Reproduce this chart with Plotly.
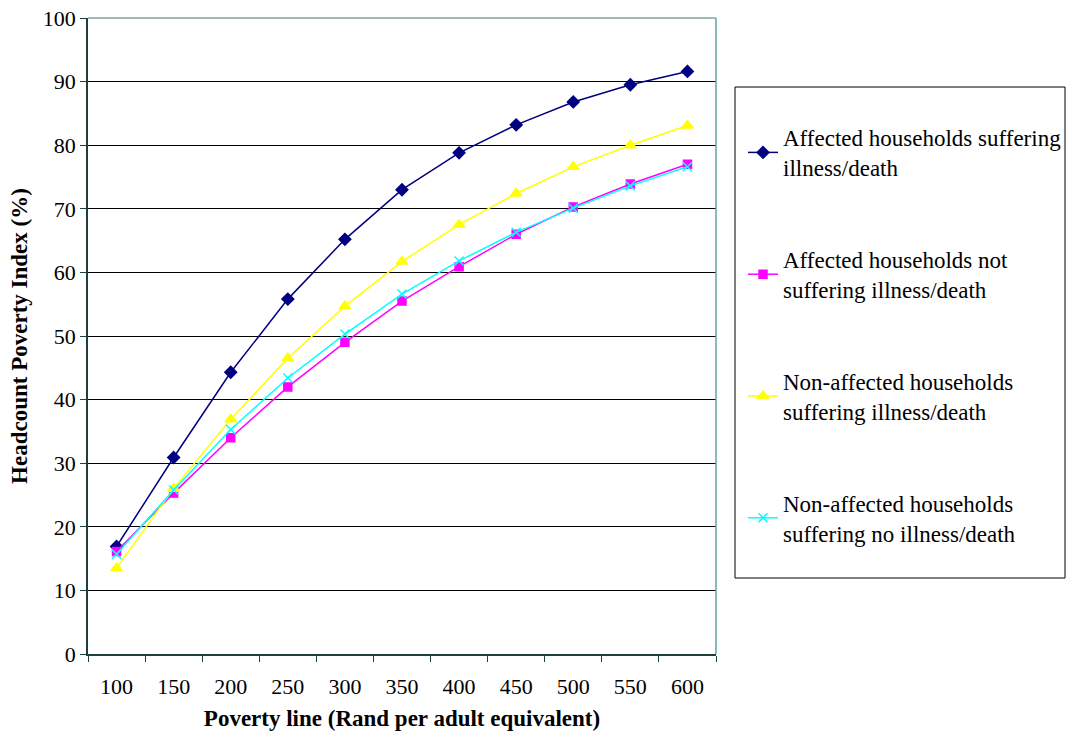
import plotly.graph_objects as go

poverty_lines = ["100", "150", "200", "250", "300", "350", "400", "450", "500", "550", "600"]

affected_ill = [16.9, 30.9, 44.3, 55.8, 65.2, 73.0, 78.8, 83.2, 86.8, 89.5, 91.6]
affected_not_ill = [16.1, 25.3, 34.0, 42.0, 49.0, 55.5, 60.9, 66.0, 70.3, 73.9, 77.0]
nonaffected_ill = [13.5, 26.0, 36.9, 46.5, 54.7, 61.7, 67.5, 72.4, 76.6, 80.0, 83.1]
nonaffected_no_ill = [15.7, 25.8, 35.3, 43.4, 50.3, 56.6, 61.8, 66.3, 70.1, 73.6, 76.6]

series_names = [
    "Affected households suffering<br>illness/death",
    "Affected households not<br>suffering illness/death",
    "Non-affected households<br>suffering illness/death",
    "Non-affected households<br>suffering no illness/death",
]
series_values = [affected_ill, affected_not_ill, nonaffected_ill, nonaffected_no_ill]
colors = ["#000080", "#FF00FF", "#FFFF00", "#00FFFF"]
symbols = ["diamond", "square", "triangle-up", "x-thin-open"]
sizes = [9, 8, 10, 9]

FONT = "Liberation Serif, Times New Roman, serif"
L, R, T, B = 88, 716, 18, 654
PW, PH = R - L, B - T

fig = go.Figure()
for i, (name, vals) in enumerate(zip(series_names, series_values)):
    fig.add_trace(go.Scatter(
        x=poverty_lines, y=vals, name=name, mode="lines+markers",
        line=dict(color=colors[i], width=1.5),
        marker=dict(symbol=symbols[i], size=sizes[i], color=colors[i],
                    line=dict(color=colors[i], width=1.5)),
        legendgroup=f"g{i}",
    ))

fig.update_layout(
    width=1067, height=736,
    margin=dict(l=L, r=1067 - R, t=T, b=736 - B, autoexpand=False),
    paper_bgcolor="white", plot_bgcolor="white",
    font=dict(family=FONT, size=22, color="black"),
    showlegend=True,
    legend=dict(
        x=(743 - L) / PW, xanchor="left", y=1 - (116 - T) / PH, yanchor="top",
        traceorder="grouped", tracegroupgap=59,
        bgcolor="rgba(0,0,0,0)", borderwidth=0,
        font=dict(family=FONT, size=23, color="black"),
        itemwidth=30,
    ),
    xaxis=dict(
        type="category", tickson="boundaries", ticks="outside", ticklen=6,
        tickcolor="#1f3f3f", showgrid=False, showline=True, linecolor="#1f3f3f",
        linewidth=1.5, tickfont=dict(size=22), zeroline=False,
        ticklabelstandoff=12, automargin=False,
        title=dict(text="<b>Poverty line (Rand per adult equivalent)</b>",
                   font=dict(size=23), standoff=12),
        range=[-0.5, 10.5],
    ),
    yaxis=dict(
        range=[0, 100], dtick=10, ticks="outside", ticklen=6, tickcolor="#1f3f3f",
        showgrid=True, gridcolor="black", gridwidth=1,
        showline=True, linecolor="#1f3f3f", linewidth=1.5, zeroline=False,
        tickfont=dict(size=22), automargin=False,
        title=dict(text="<b>Headcount Poverty Index (%)</b>", font=dict(size=23), standoff=9),
    ),
    shapes=[
        dict(type="line", xref="paper", yref="paper", x0=0, x1=1, y0=1, y1=1,
             line=dict(color="#7fa5a5", width=1.5)),
        dict(type="line", xref="paper", yref="paper", x0=1, x1=1, y0=0, y1=1,
             line=dict(color="#5fa5a5", width=1.5)),
        dict(type="rect", xref="paper", yref="paper",
             x0=(735 - L) / PW, x1=(1065 - L) / PW,
             y0=(B - 578) / PH, y1=(B - 87) / PH,
             line=dict(color="black", width=1), fillcolor="rgba(0,0,0,0)"),
    ],
)

fig.write_html("out.html")
